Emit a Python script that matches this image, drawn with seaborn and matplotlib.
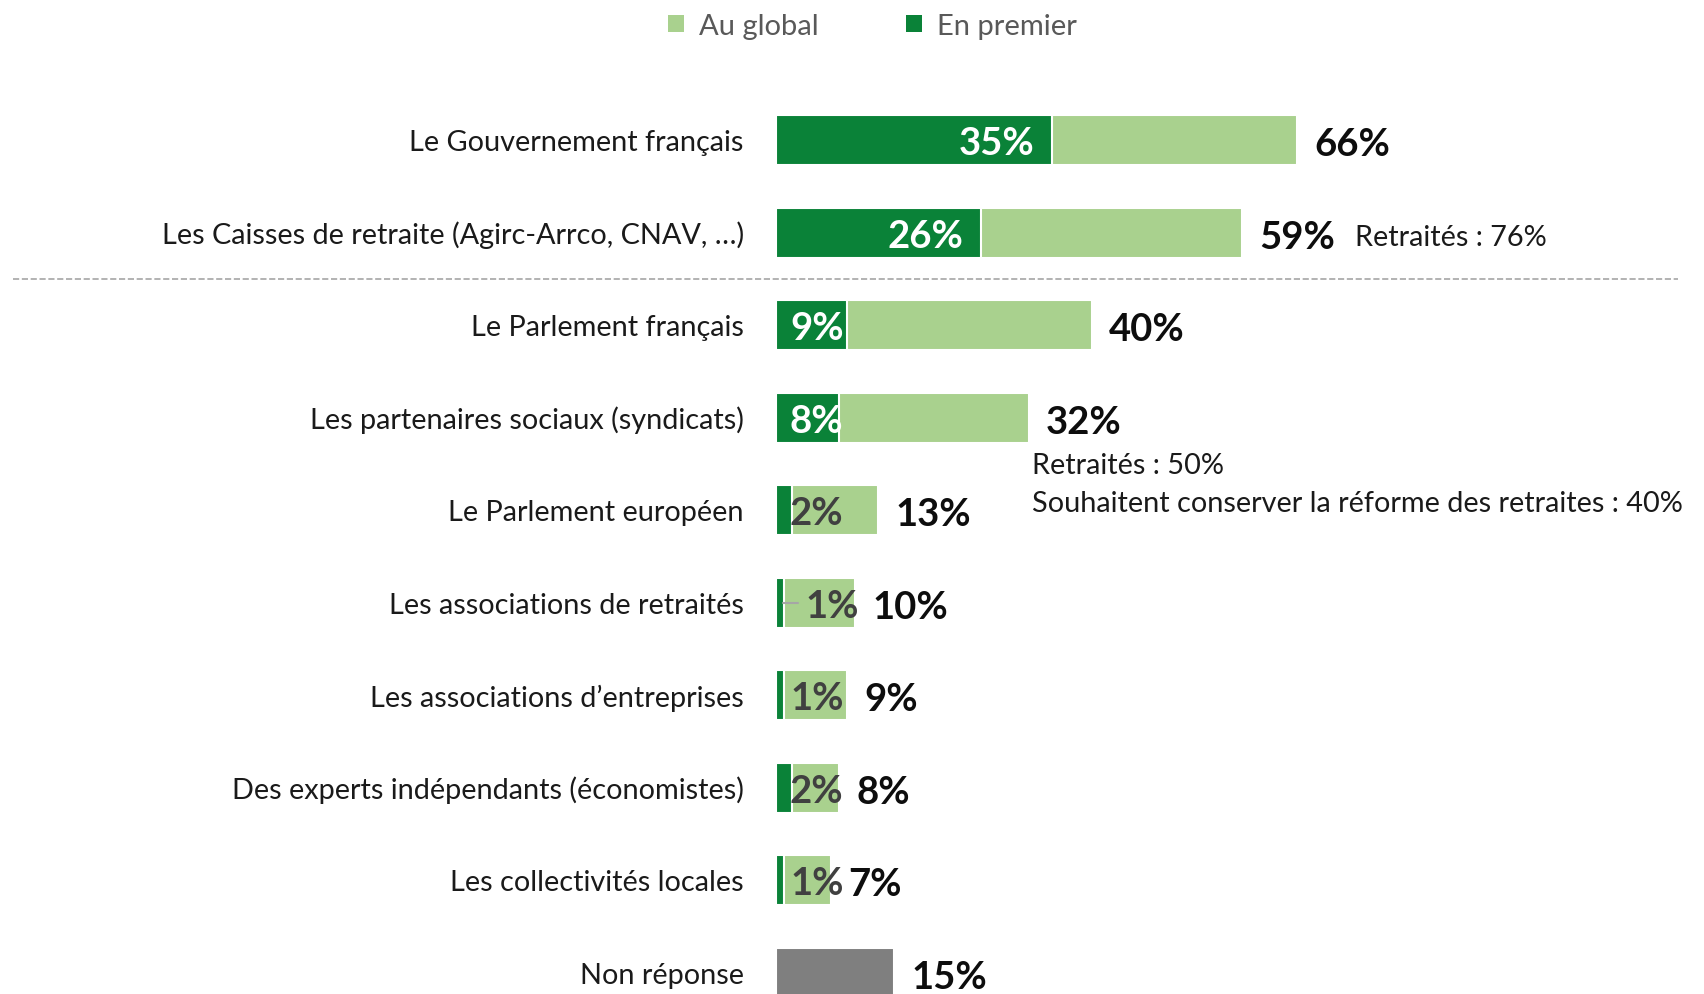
import matplotlib
matplotlib.use("Agg")
import matplotlib.pyplot as plt
from matplotlib.patches import Patch
import seaborn as sns
import pandas as pd

# Data
categories = [
    "Le Gouvernement français",
    "Les Caisses de retraite (Agirc-Arrco, CNAV, …)",
    "Le Parlement français",
    "Les partenaires sociaux (syndicats)",
    "Le Parlement européen",
    "Les associations de retraités",
    "Les associations d’entreprises",
    "Des experts indépendants (économistes)",
    "Les collectivités locales",
    "Non réponse",
]
au_global = [66, 59, 40, 32, 13, 10, 9, 8, 7, 15]
en_premier = [35, 26, 9, 8, 2, 1, 1, 2, 1, None]
note_76 = "Retraités : 76%"
notes_32 = ["Retraités : 50%", "Souhaitent conserver la réforme des retraites : 40%"]

# Colours
DARK_GREEN = '#0A8238'
LIGHT_GREEN = '#A9D18E'
GREY_BAR = '#7F7F7F'
TEXT_DARK = '#1A1A1A'
TEXT_MID = '#404040'
TEXT_LEGEND = '#595959'

LABEL_FS = 20.8
VALUE_FS = 27.5

sns.set_theme(style="white")
plt.rcParams['font.family'] = ['Lato', 'DejaVu Sans']

df = pd.DataFrame({"cat": categories, "global": au_global, "premier": en_premier})
bar_colors = [LIGHT_GREEN] * (len(categories) - 1) + [GREY_BAR]

fig = plt.figure(figsize=(17.04, 9.95), dpi=100)
ax = fig.add_axes([0, 0, 1, 1])

# Full "au global" bars, then "en premier" drawn on top from zero
sns.barplot(data=df, x="global", y="cat", hue="cat", palette=bar_colors,
            legend=False, width=0.54, edgecolor='white', linewidth=1.5,
            saturation=1, ax=ax)
sns.barplot(data=df, x="premier", y="cat", color=DARK_GREEN, width=0.54,
            edgecolor='white', linewidth=1.5, saturation=1, ax=ax)

ax.set_xlim(-98.2, 117.5)
ax.set_ylim(9.229, -1.528)
ax.axis('off')

for i, (cat, g, p) in enumerate(zip(categories, au_global, en_premier)):
    ax.text(-4.05, i + 0.02, cat, ha='right', va='center', fontsize=LABEL_FS,
            color=TEXT_DARK)
    ax.text(g + 2.2, i + 0.04, f"{g}%", ha='left', va='center', fontsize=VALUE_FS,
            fontweight='bold', color='#0D0D0D')
    if p is None:
        continue
    if p >= 20:
        ax.text(p - 2.2, i + 0.03, f"{p}%", ha='right', va='center', fontsize=VALUE_FS,
                fontweight='bold', color='white')
    elif p >= 5:
        ax.text(1.8, i + 0.03, f"{p}%", ha='left', va='center', fontsize=VALUE_FS,
                fontweight='bold', color='white')
    elif cat == "Les associations de retraités":
        ax.plot([0.9, 2.8], [i, i], color='#A6A6A6', linewidth=1.5)
        ax.text(3.8, i + 0.03, f"{p}%", ha='left', va='center', fontsize=VALUE_FS,
                fontweight='bold', color=TEXT_MID)
    else:
        ax.text(1.8, i + 0.03, f"{p}%", ha='left', va='center', fontsize=VALUE_FS,
                fontweight='bold', color=TEXT_MID)

# Side notes
ax.text(au_global[1] + 14.3, 1.05, note_76, ha='left', va='center',
        fontsize=LABEL_FS, color=TEXT_DARK)
ax.text(au_global[3] + 0.4, 3.51, notes_32[0], ha='left', va='center',
        fontsize=LABEL_FS, color=TEXT_DARK)
ax.text(au_global[3] + 0.4, 3.92, notes_32[1], ha='left', va='center',
        fontsize=LABEL_FS, color=TEXT_DARK)

# Dashed separator between the first two rows and the rest
ax.axhline(1.5, xmin=0.0076, xmax=0.985, color='#A6A6A6', linestyle='--',
           linewidth=1.2)

handles = [Patch(facecolor=LIGHT_GREEN, edgecolor='none', label='Au global'),
           Patch(facecolor=DARK_GREEN, edgecolor='none', label='En premier')]
leg = fig.legend(handles=handles, loc='center', bbox_to_anchor=(0.512, 0.973),
                 ncol=2, frameon=False, fontsize=21, handlelength=0.55,
                 handleheight=0.55, handletextpad=0.5, columnspacing=3.0)
for t in leg.get_texts():
    t.set_color(TEXT_LEGEND)

fig.savefig("out.png", dpi=100, facecolor='white')
